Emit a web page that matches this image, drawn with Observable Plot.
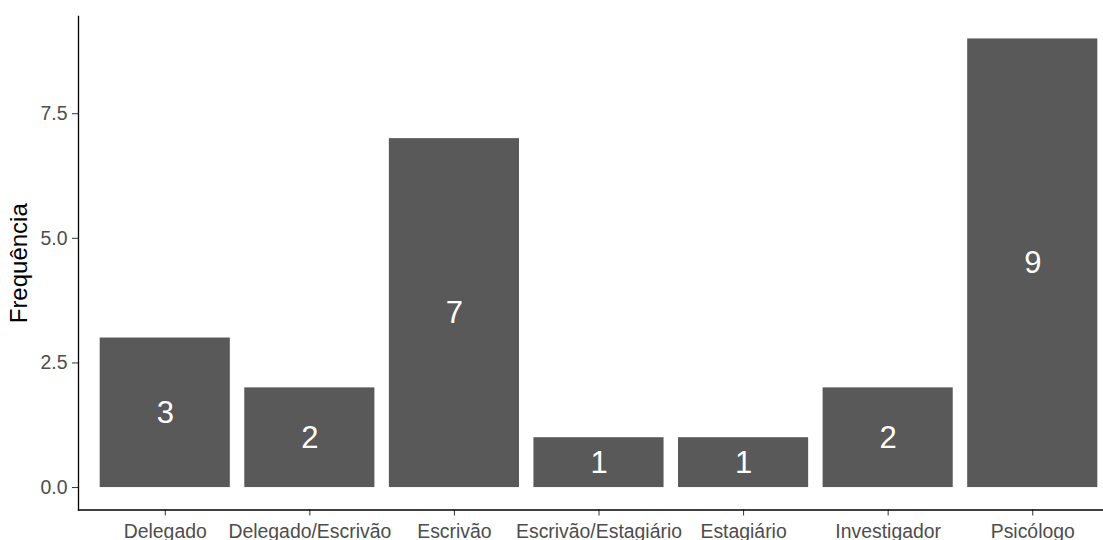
<!DOCTYPE html>
<html>
<head>
<meta charset="utf-8">
<script src="https://cdn.jsdelivr.net/npm/d3@7"></script>
<script src="https://cdn.jsdelivr.net/npm/@observablehq/plot@0.6"></script>
<style>
  html, body { margin: 0; padding: 0; background: white; }
  g[aria-label="y-axis tick label"], g[aria-label="x-axis tick label"] { color: #4d4d4d; }
  g[aria-label="y-axis tick"], g[aria-label="x-axis tick"] { color: #333333; }
</style>
</head>
<body>
<div id="chart"></div>
<script>
const categories = ["Delegado", "Delegado/Escrivão", "Escrivão", "Escrivão/Estagiário", "Estagiário", "Investigador", "Psicólogo"];
const frequencies = [3, 2, 7, 1, 1, 2, 9];
const yTicks = [0, 2.5, 5, 7.5];
const yTitle = "Frequência";

const data = categories.map((c, i) => ({cat: c, n: frequencies[i]}));

const chart = Plot.plot({
  width: 1103,
  height: 540,
  marginLeft: 78,
  marginRight: 0,
  marginTop: 16,
  marginBottom: 30.5,
  style: {fontFamily: "'Liberation Sans', Arial, sans-serif", background: "white", overflow: "visible"},
  x: {domain: categories, range: [78, 1119], paddingInner: 0.1, paddingOuter: 0.15, align: 0.5, round: false, label: null},
  y: {domain: [-0.45, 9.45], label: null},
  marks: [
    Plot.barY(data, {x: "cat", y1: 0, y2: "n", fill: "#595959"}),
    Plot.text(data, {x: "cat", y: d => d.n / 2, text: d => String(d.n), fill: "white", fontSize: 31}),
    Plot.axisY({ticks: yTicks, tickFormat: d => d.toFixed(1), tickSize: 6, tickPadding: 5, fontSize: 19.4, label: null}),
    Plot.axisX({tickSize: 6, tickPadding: 8, fontSize: 19.4, label: null}),
    Plot.text([yTitle], {frameAnchor: "left", textAnchor: "middle", dx: -59, rotate: -90, fontSize: 24, fill: "black"}),
    Plot.frame({anchor: "left", stroke: "black", strokeWidth: 1.3}),
    Plot.frame({anchor: "bottom", stroke: "black", strokeWidth: 1.3})
  ]
});
document.getElementById("chart").appendChild(chart);
</script>
</body>
</html>
